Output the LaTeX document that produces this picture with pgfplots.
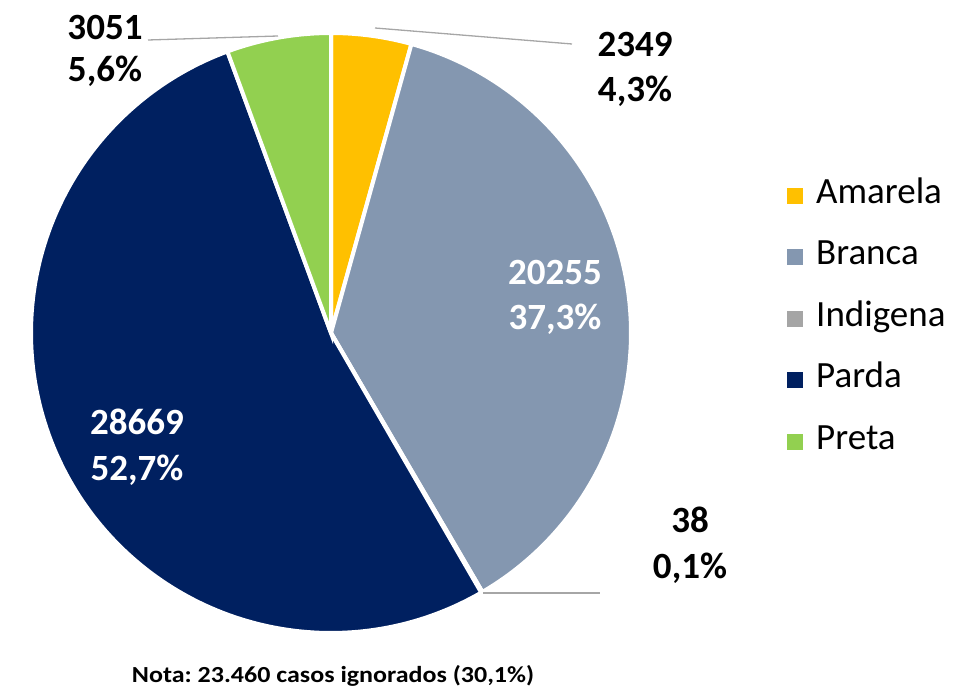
\documentclass[border=0pt]{standalone}
\usepackage{pgfplots}
\pgfplotsset{compat=1.18}
\usepackage{pgfplotstable}
\usepackage{fontspec}
\setmainfont{Carlito}
\frenchspacing
\definecolor{amarela}{HTML}{FFC000}
\definecolor{branca}{HTML}{8497B0}
\definecolor{indigena}{HTML}{A5A5A5}
\definecolor{parda}{HTML}{002060}
\definecolor{preta}{HTML}{92D050}
\definecolor{leader}{HTML}{A6A6A6}

\pgfplotstableread{
cat value
Amarela 2349
Branca 20255
Indigena 38
Parda 28669
Preta 3051
}\pietable

\pgfplotstablegetelem{0}{value}\of\pietable \edef\vA{\pgfplotsretval}
\pgfplotstablegetelem{1}{value}\of\pietable \edef\vB{\pgfplotsretval}
\pgfplotstablegetelem{2}{value}\of\pietable \edef\vC{\pgfplotsretval}
\pgfplotstablegetelem{3}{value}\of\pietable \edef\vD{\pgfplotsretval}
\pgfplotstablegetelem{4}{value}\of\pietable \edef\vE{\pgfplotsretval}
\edef\total{\fpeval{\vA+\vB+\vC+\vD+\vE}}
\edef\aA{90}
\edef\aB{\fpeval{\aA-360*\vA/\total}}
\edef\aC{\fpeval{\aB-360*\vB/\total}}
\edef\aD{\fpeval{\aC-360*\vC/\total}}
\edef\aE{\fpeval{\aD-360*\vD/\total}}
\edef\aF{\fpeval{\aE-360*\vE/\total}}

\begin{document}
\begin{tikzpicture}
\begin{axis}[
  x=1pt, y=1pt, scale only axis,
  xmin=0, xmax=975, ymin=0, ymax=691,
  hide axis, clip=false,
  legend image code/.code={\fill[#1, draw=none] (0pt,-8pt) rectangle (16pt,8pt);},
  legend cell align=left,
  legend style={draw=none, fill=none, at={(axis cs:787,511)}, anchor=north west,
    font=\fontsize{37}{44}\selectfont, inner sep=0pt, column sep=13pt, row sep=30.6pt,
    nodes={inner sep=0pt, text height=23pt, text depth=8pt}},
]
\path (axis cs:0,0) rectangle (axis cs:975,691);
\addplot[fill=amarela, draw=white, line width=4pt, domain=\aB:\aA, samples=40, forget plot]
  ({331+300*cos(x)}, {358+300*sin(x)}) -- (axis cs:331,358) -- cycle;
\addplot[fill=branca, draw=white, line width=4pt, domain=\aC:\aB, samples=120, forget plot]
  ({331+300*cos(x)}, {358+300*sin(x)}) -- (axis cs:331,358) -- cycle;
\addplot[fill=indigena, draw=white, line width=4pt, domain=\aD:\aC, samples=2, forget plot]
  ({331+300*cos(x)}, {358+300*sin(x)}) -- (axis cs:331,358) -- cycle;
\addplot[fill=parda, draw=white, line width=4pt, domain=\aE:\aD, samples=160, forget plot]
  ({331+300*cos(x)}, {358+300*sin(x)}) -- (axis cs:331,358) -- cycle;
\addplot[fill=preta, draw=white, line width=4pt, domain=\aF:\aE, samples=40, forget plot]
  ({331+300*cos(x)}, {358+300*sin(x)}) -- (axis cs:331,358) -- cycle;

% leader lines
\addplot[leader, line width=1.3pt, forget plot] coordinates {(148,651) (278,655)};
\addplot[leader, line width=1.3pt, forget plot] coordinates {(375,663) (572,647)};
\addplot[leader, line width=1.3pt, forget plot] coordinates {(483,98) (600,98)};

\addlegendimage{fill=amarela}\addlegendentry{Amarela}
\addlegendimage{fill=branca}\addlegendentry{Branca}
\addlegendimage{fill=indigena}\addlegendentry{Indigena}
\addlegendimage{fill=parda}\addlegendentry{Parda}
\addlegendimage{fill=preta}\addlegendentry{Preta}

\begin{scope}[every node/.style={font=\fontsize{37}{44}\selectfont\bfseries, inner sep=0pt, anchor=base}]
\node at (axis cs:105,651) {3051};
\node at (axis cs:105,609) {5,6\%};
\node at (axis cs:635,634) {2349};
\node at (axis cs:635,589) {4,3\%};
\node[text=white] at (axis cs:555,406) {20255};
\node[text=white] at (axis cs:555,361) {37,3\%};
\node at (axis cs:690,158) {38};
\node at (axis cs:690,112) {0,1\%};
\node[text=white] at (axis cs:137,256) {28669};
\node[text=white] at (axis cs:137,210) {52,7\%};
\end{scope}
\node[font=\fontsize{23}{27}\selectfont\bfseries, inner sep=0pt, anchor=base] at (axis cs:333,9)
  {\scalebox{1.13}[1]{Nota: 23.460 casos ignorados (30,1\%)}};
\end{axis}
\end{tikzpicture}
\end{document}
